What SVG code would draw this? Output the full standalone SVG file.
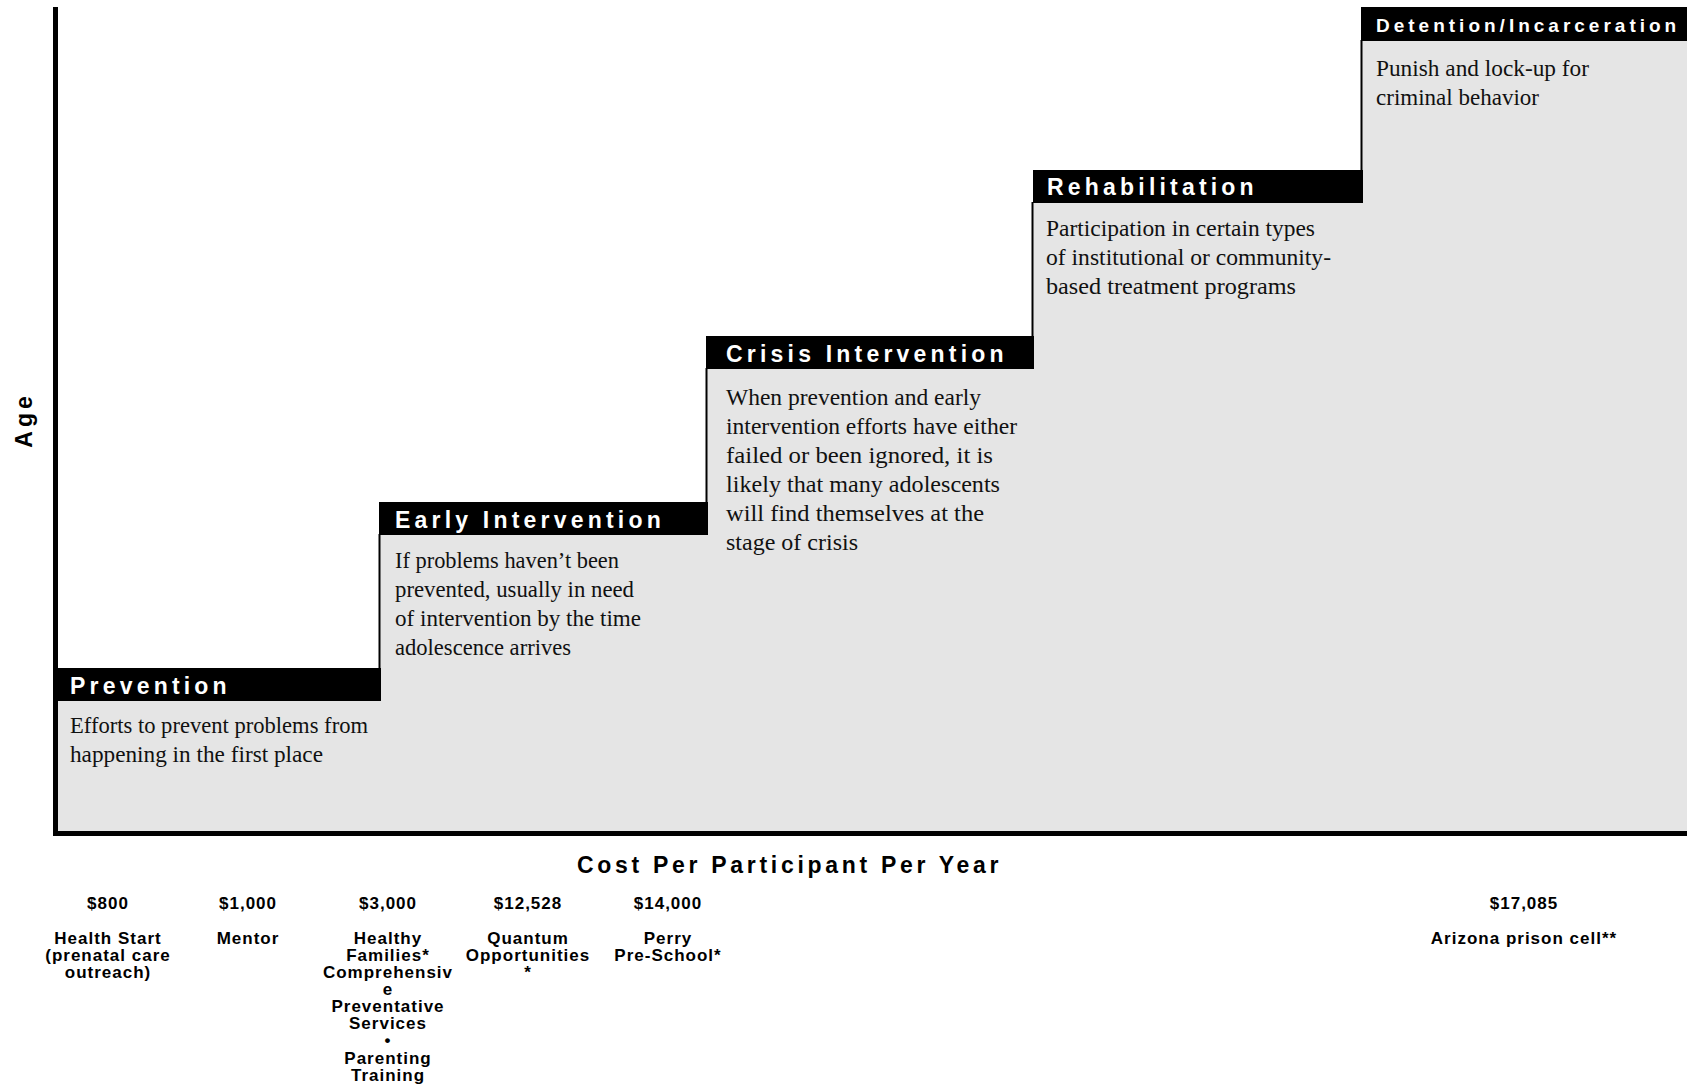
<svg xmlns="http://www.w3.org/2000/svg" width="1687" height="1087" viewBox="0 0 1687 1087">
<style>
.hdr{fill:#000}
.ht{font-family:"Liberation Sans",Arial,sans-serif;font-weight:bold;font-size:23px;letter-spacing:4.2px;fill:#fff}
.bt{font-family:"Liberation Serif","Times New Roman",serif;font-size:23px;fill:#111}
.riser{stroke:#000;stroke-width:2;fill:none}
.ax{stroke:#000;stroke-width:5;fill:none}
.lbl{font-family:"Liberation Sans",Arial,sans-serif;font-weight:bold;fill:#000}
.cv{font-family:"Liberation Sans",Arial,sans-serif;font-weight:bold;font-size:17px;letter-spacing:1px;fill:#000;text-anchor:middle}
</style>
<rect width="1687" height="1087" fill="#fff"/>
<path d="M56,668 H380 V502 H707 V336 H1033 V170 H1362 V7 H1687 V833 H56 Z" fill="#e5e5e5"/>
<g id="risers">
<line class="riser" x1="379.5" y1="534" x2="379.5" y2="669"/>
<line class="riser" x1="706.5" y1="368" x2="706.5" y2="503"/>
<line class="riser" x1="1032.5" y1="202" x2="1032.5" y2="337"/>
<line class="riser" x1="1361.5" y1="40" x2="1361.5" y2="171"/>
</g>
<g id="prevention">
<rect class="hdr" x="56" y="668" width="325" height="33"/>
<text class="ht" x="70" y="693.5">Prevention</text>
<text class="bt" x="70" y="733" textLength="298" lengthAdjust="spacingAndGlyphs">Efforts to prevent problems from</text>
<text class="bt" x="70" y="762" textLength="253" lengthAdjust="spacingAndGlyphs">happening in the first place</text>
</g>
<g id="early-intervention">
<rect class="hdr" x="379" y="502" width="329" height="33"/>
<text class="ht" x="395" y="527.5">Early Intervention</text>
<text class="bt" x="395" y="568" textLength="224" lengthAdjust="spacingAndGlyphs">If problems haven’t been</text>
<text class="bt" x="395" y="597" textLength="239" lengthAdjust="spacingAndGlyphs">prevented, usually in need</text>
<text class="bt" x="395" y="626" textLength="246" lengthAdjust="spacingAndGlyphs">of intervention by the time</text>
<text class="bt" x="395" y="655" textLength="176" lengthAdjust="spacingAndGlyphs">adolescence arrives</text>
</g>
<g id="crisis-intervention">
<rect class="hdr" x="706" y="336" width="328" height="33"/>
<text class="ht" x="726" y="361.5">Crisis Intervention</text>
<text class="bt" x="726" y="405" textLength="255" lengthAdjust="spacingAndGlyphs">When prevention and early</text>
<text class="bt" x="726" y="434" textLength="291" lengthAdjust="spacingAndGlyphs">intervention efforts have either</text>
<text class="bt" x="726" y="463" textLength="267" lengthAdjust="spacingAndGlyphs">failed or been ignored, it is</text>
<text class="bt" x="726" y="492" textLength="274" lengthAdjust="spacingAndGlyphs">likely that many adolescents</text>
<text class="bt" x="726" y="521" textLength="258" lengthAdjust="spacingAndGlyphs">will find themselves at the</text>
<text class="bt" x="726" y="550" textLength="132" lengthAdjust="spacingAndGlyphs">stage of crisis</text>
</g>
<g id="rehabilitation">
<rect class="hdr" x="1033" y="170" width="330" height="33"/>
<text class="ht" x="1047" y="195">Rehabilitation</text>
<text class="bt" x="1046" y="236" textLength="269" lengthAdjust="spacingAndGlyphs">Participation in certain types</text>
<text class="bt" x="1046" y="265" textLength="285" lengthAdjust="spacingAndGlyphs">of institutional or community-</text>
<text class="bt" x="1046" y="294" textLength="250" lengthAdjust="spacingAndGlyphs">based treatment programs</text>
</g>
<g id="detention-incarceration">
<rect class="hdr" x="1361" y="7" width="326" height="34"/>
<text class="ht" x="1376" y="31.5" style="font-size:19px;letter-spacing:4px">Detention/Incarceration</text>
<text class="bt" x="1376" y="76" textLength="213" lengthAdjust="spacingAndGlyphs">Punish and lock-up for</text>
<text class="bt" x="1376" y="105" textLength="163" lengthAdjust="spacingAndGlyphs">criminal behavior</text>
</g>
<g id="axes">
<line class="ax" x1="55.5" y1="7" x2="55.5" y2="836"/>
<line class="ax" x1="53" y1="833.5" x2="1687" y2="833.5"/>
<text class="lbl" x="0" y="0" transform="translate(32,420) rotate(-90)" text-anchor="middle" style="font-size:23px;letter-spacing:4px">Age</text>
<text class="lbl" x="577" y="873" style="font-size:23px;letter-spacing:3.7px">Cost Per Participant Per Year</text>
</g>
<g id="cost-health-start">
<text class="cv" x="108" y="909">$800</text>
<text class="cv" x="108" y="944">Health Start</text>
<text class="cv" x="108" y="961">(prenatal care</text>
<text class="cv" x="108" y="978">outreach)</text>
</g>
<g id="cost-mentor">
<text class="cv" x="248" y="909">$1,000</text>
<text class="cv" x="248" y="944">Mentor</text>
</g>
<g id="cost-healthy-families">
<text class="cv" x="388" y="909">$3,000</text>
<text class="cv" x="388" y="944">Healthy</text>
<text class="cv" x="388" y="961">Families*</text>
<text class="cv" x="388" y="978">Comprehensiv</text>
<text class="cv" x="388" y="995">e</text>
<text class="cv" x="388" y="1012">Preventative</text>
<text class="cv" x="388" y="1029">Services</text>
<text class="cv" x="388" y="1046">•</text>
<text class="cv" x="388" y="1064">Parenting</text>
<text class="cv" x="388" y="1081">Training</text>
</g>
<g id="cost-quantum">
<text class="cv" x="528" y="909">$12,528</text>
<text class="cv" x="528" y="944">Quantum</text>
<text class="cv" x="528" y="961">Opportunities</text>
<text class="cv" x="528" y="978">*</text>
</g>
<g id="cost-perry">
<text class="cv" x="668" y="909">$14,000</text>
<text class="cv" x="668" y="944">Perry</text>
<text class="cv" x="668" y="961">Pre-School*</text>
</g>
<g id="cost-arizona">
<text class="cv" x="1524" y="909">$17,085</text>
<text class="cv" x="1524" y="944">Arizona prison cell**</text>
</g>
</svg>
